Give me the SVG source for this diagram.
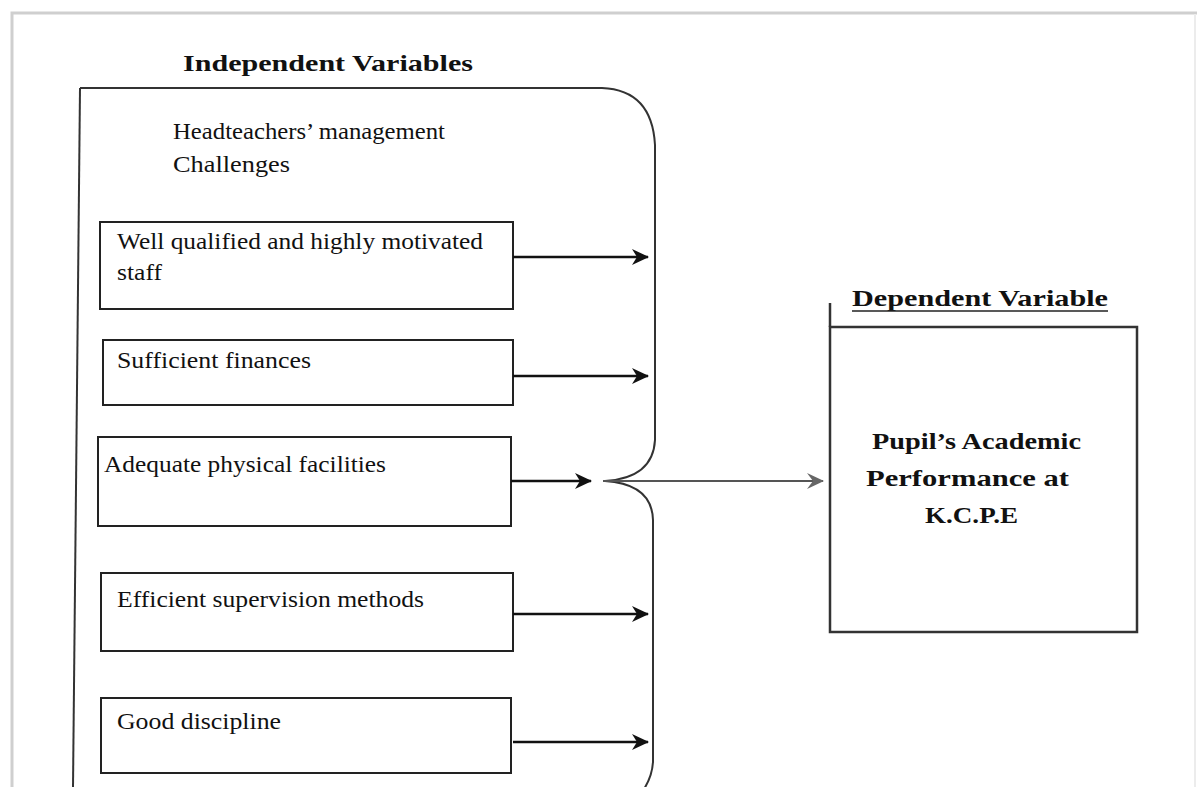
<svg xmlns="http://www.w3.org/2000/svg" width="1197" height="787" viewBox="0 0 1197 787">
<style>
.t{font-family:"Liberation Serif","Times New Roman",serif;font-size:23px;fill:#111}
.b{font-weight:bold}
.box{fill:#fff;stroke:#222;stroke-width:2}
.ln{fill:none;stroke:#333;stroke-width:2}
.ar{fill:none;stroke:#111;stroke-width:2.5}
</style>
<defs>
<marker id="ah" markerWidth="20" markerHeight="18" refX="17" refY="9" orient="auto" markerUnits="userSpaceOnUse">
<path d="M1,1 L18,9 L1,17 L6,9 Z" fill="#111"/>
</marker>
<marker id="ag" markerWidth="20" markerHeight="18" refX="17" refY="9" orient="auto" markerUnits="userSpaceOnUse">
<path d="M1,1 L18,9 L1,17 L7,9 Z" fill="#666"/>
</marker>
</defs>
<rect width="1197" height="787" fill="#fff"/>
<g id="page">
<path d="M12 787 L12 13 L1197 13" fill="none" stroke="#cfcfcf" stroke-width="3"/>
<line x1="1195" y1="14" x2="1195" y2="787" stroke="#ececec" stroke-width="2"/>
</g>
<g id="independent">
<text class="t b" x="183" y="71" textLength="290" lengthAdjust="spacingAndGlyphs">Independent  Variables</text>
<path class="ln" d="M80 88 L73 787"/>
<path class="ln" d="M80 88 L602 88 Q652 90 655 145 L655 440 Q653 478 605 481 Q652 484 653 520 L653 762 Q652 778 642 792"/>
<text class="t" x="173" y="139" textLength="272" lengthAdjust="spacingAndGlyphs">Headteachers’ management</text>
<text class="t" x="173" y="172" textLength="117" lengthAdjust="spacingAndGlyphs">Challenges</text>
</g>
<g id="n1">
<rect class="box" x="100" y="222" width="413" height="87"/>
<text class="t" x="117" y="249" textLength="366" lengthAdjust="spacingAndGlyphs">Well qualified and highly motivated</text>
<text class="t" x="117" y="280" textLength="45" lengthAdjust="spacingAndGlyphs">staff</text>
</g>
<g id="n2">
<rect class="box" x="103" y="340" width="410" height="65"/>
<text class="t" x="117" y="368" textLength="194" lengthAdjust="spacingAndGlyphs">Sufficient finances</text>
</g>
<g id="n3">
<rect class="box" x="98" y="437" width="413" height="89"/>
<text class="t" x="104" y="472" textLength="282" lengthAdjust="spacingAndGlyphs">Adequate physical facilities</text>
</g>
<g id="n4">
<rect class="box" x="101" y="573" width="412" height="78"/>
<text class="t" x="117" y="607" textLength="307" lengthAdjust="spacingAndGlyphs">Efficient supervision methods</text>
</g>
<g id="n5">
<rect class="box" x="101" y="698" width="410" height="75"/>
<text class="t" x="117" y="729" textLength="164" lengthAdjust="spacingAndGlyphs">Good discipline</text>
</g>
<g id="dependent">
<text class="t b" x="852" y="306" textLength="256" lengthAdjust="spacingAndGlyphs">Dependent Variable</text>
<line x1="852" y1="311" x2="1108" y2="311" stroke="#222" stroke-width="1.5"/>
<line x1="830" y1="303" x2="830" y2="327" stroke="#333" stroke-width="2.5"/>
<rect x="830" y="327" width="307" height="305" fill="#fff" stroke="#333" stroke-width="2.5"/>
<text class="t b" x="872" y="449" textLength="209" lengthAdjust="spacingAndGlyphs">Pupil’s Academic</text>
<text class="t b" x="866" y="486" textLength="203" lengthAdjust="spacingAndGlyphs">Performance at</text>
<text class="t b" x="925" y="523" textLength="93" lengthAdjust="spacingAndGlyphs">K.C.P.E</text>
</g>
<g id="connectors">
<line class="ar" x1="513" y1="257" x2="648" y2="257" marker-end="url(#ah)"/>
<line class="ar" x1="513" y1="376" x2="648" y2="376" marker-end="url(#ah)"/>
<line class="ar" x1="511" y1="481" x2="591" y2="481" marker-end="url(#ah)"/>
<line class="ar" x1="513" y1="614" x2="648" y2="614" marker-end="url(#ah)"/>
<line class="ar" x1="513" y1="742" x2="648" y2="742" marker-end="url(#ah)"/>
<line x1="603" y1="481" x2="823" y2="481" stroke="#555" stroke-width="2" marker-end="url(#ag)"/>
</g>
</svg>
